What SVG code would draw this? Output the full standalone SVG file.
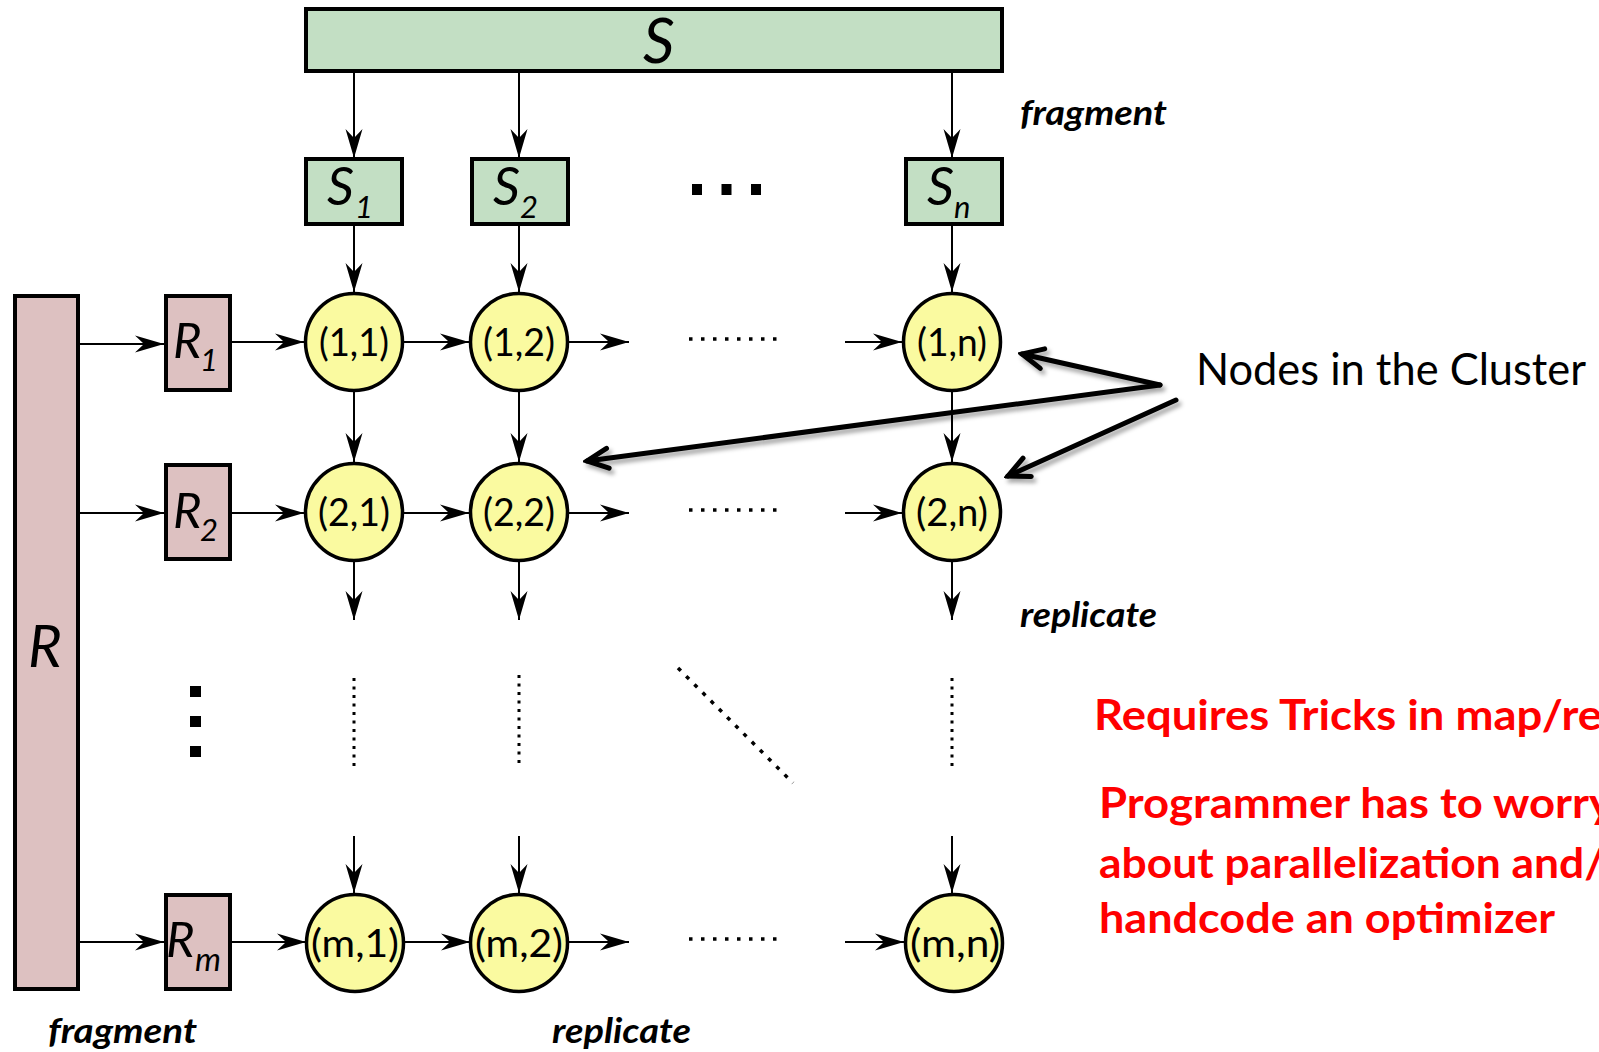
<svg xmlns="http://www.w3.org/2000/svg" width="1599" height="1052" viewBox="0 0 1599 1052">
<defs>
<style>
.sbox{fill:#c3dfc4;stroke:#000;stroke-width:4}
.rbox{fill:#ddc1c1;stroke:#000;stroke-width:4}
.node{fill:#fafaa0;stroke:#000;stroke-width:3.5}
.lbl{font-family:Lato,"Liberation Sans",sans-serif;font-style:italic;fill:#000}
.ntx{font-family:Lato,"Liberation Sans",sans-serif;font-size:39px;fill:#000;text-anchor:middle}
.note{font-family:Lato,"Liberation Sans",sans-serif;font-style:italic;font-weight:bold;font-size:34px;fill:#000}
.red{font-family:Lato,"Liberation Sans",sans-serif;font-weight:bold;font-size:42px;fill:#ff0000}
.cl{font-family:Lato,"Liberation Sans",sans-serif;font-size:44px;fill:#000}
.arr{stroke:#000;stroke-width:2;fill:none;marker-end:url(#ah)}
.dot{stroke:#000;fill:none}
.thick{stroke:#000;stroke-width:5;fill:none;marker-end:url(#oh);stroke-linecap:round}
</style>
<marker id="ah" markerUnits="userSpaceOnUse" viewBox="-30 -10 31 20" refX="0" refY="0" markerWidth="31" markerHeight="20" orient="auto">
<path d="M0,0 L-29,-8.5 L-20,0 L-29,8.5 Z" fill="#000"/>
</marker>
<marker id="oh" markerUnits="userSpaceOnUse" viewBox="-26 -14 30 28" refX="0" refY="0" markerWidth="30" markerHeight="28" orient="auto">
<path d="M-21,-10 L0,0 L-21,10" fill="none" stroke="#000" stroke-width="5" stroke-linecap="round" stroke-linejoin="miter"/>
</marker>
<filter id="sh" x="-10%" y="-30%" width="120%" height="160%">
<feDropShadow dx="3" dy="4" stdDeviation="2" flood-color="#000" flood-opacity="0.35"/>
</filter>
</defs>
<rect width="1599" height="1052" fill="#fff"/>

<g id="connectors">
<line class="arr" x1="354" y1="72" x2="354" y2="158"/>
<line class="arr" x1="519" y1="72" x2="519" y2="158"/>
<line class="arr" x1="952" y1="72" x2="952" y2="158"/>
<line class="arr" x1="354" y1="224" x2="354" y2="292"/>
<line class="arr" x1="519" y1="224" x2="519" y2="292"/>
<line class="arr" x1="952" y1="224" x2="952" y2="292"/>
<line class="arr" x1="354" y1="391" x2="354" y2="462"/>
<line class="arr" x1="519" y1="391" x2="519" y2="462"/>
<line class="arr" x1="952" y1="391" x2="952" y2="462"/>
<line class="arr" x1="354" y1="561" x2="354" y2="620"/>
<line class="arr" x1="519" y1="561" x2="519" y2="620"/>
<line class="arr" x1="952" y1="561" x2="952" y2="620"/>
<line class="arr" x1="354" y1="836" x2="354" y2="893"/>
<line class="arr" x1="519" y1="836" x2="519" y2="893"/>
<line class="arr" x1="952" y1="836" x2="952" y2="893"/>

<line class="arr" x1="79" y1="344" x2="164" y2="344"/>
<line class="arr" x1="230" y1="342" x2="304" y2="342"/>
<line class="arr" x1="402" y1="342" x2="469" y2="342"/>
<line class="arr" x1="568" y1="342" x2="629" y2="342"/>
<line class="arr" x1="845" y1="342" x2="902" y2="342"/>

<line class="arr" x1="79" y1="513" x2="164" y2="513"/>
<line class="arr" x1="230" y1="513" x2="304" y2="513"/>
<line class="arr" x1="402" y1="513" x2="469" y2="513"/>
<line class="arr" x1="568" y1="513" x2="629" y2="513"/>
<line class="arr" x1="845" y1="513" x2="902" y2="513"/>

<line class="arr" x1="79" y1="942" x2="164" y2="942"/>
<line class="arr" x1="230" y1="942" x2="306" y2="942"/>
<line class="arr" x1="404" y1="942" x2="470" y2="942"/>
<line class="arr" x1="568" y1="942" x2="629" y2="942"/>
<line class="arr" x1="845" y1="942" x2="904" y2="942"/>

<line class="dot" x1="689" y1="339" x2="776.5" y2="339" stroke-width="3.5" stroke-dasharray="3.5 8.5"/>
<line class="dot" x1="689" y1="510" x2="776.5" y2="510" stroke-width="3.5" stroke-dasharray="3.5 8.5"/>
<line class="dot" x1="689" y1="939" x2="776.5" y2="939" stroke-width="3.5" stroke-dasharray="3.5 8.5"/>

<line class="dot" x1="354" y1="678" x2="354" y2="766" stroke-width="3" stroke-dasharray="3 5.5"/>
<line class="dot" x1="519" y1="675" x2="519" y2="763" stroke-width="3" stroke-dasharray="3 5.5"/>
<line class="dot" x1="952" y1="678" x2="952" y2="766" stroke-width="3" stroke-dasharray="3 5.5"/>
<line class="dot" x1="678" y1="668" x2="793" y2="783" stroke-width="3.5" stroke-dasharray="4 7.6"/>

<g filter="url(#sh)">
<polyline class="thick" points="1160,385 1022,354" />
<polyline class="thick" points="1160,385 587,461" />
<polyline class="thick" points="1176,400 1008,476" />
</g>
</g>

<g id="S"><rect class="sbox" x="306" y="9" width="696" height="62"/><text class="lbl" x="643" y="63" font-size="62">S</text></g>
<g id="S1"><rect class="sbox" x="306" y="159" width="96" height="65"/><text class="lbl"><tspan x="327" y="205" font-size="53">S</tspan><tspan x="355" y="218" font-size="31">1</tspan></text></g>
<g id="S2"><rect class="sbox" x="472" y="159" width="96" height="65"/><text class="lbl"><tspan x="493" y="205" font-size="53">S</tspan><tspan x="520" y="218" font-size="31">2</tspan></text></g>
<g id="Sn"><rect class="sbox" x="906" y="159" width="96" height="65"/><text class="lbl"><tspan x="927" y="205" font-size="53">S</tspan><tspan x="954" y="218" font-size="31">n</tspan></text></g>
<g id="top-ellipsis"><rect x="692" y="184" width="10" height="11"/><rect x="721.5" y="184" width="10" height="11"/><rect x="751" y="184" width="10" height="11"/></g>

<g id="R"><rect class="rbox" x="15" y="296" width="63" height="693"/><text class="lbl" x="28" y="667" font-size="58">R</text></g>
<g id="R1"><rect class="rbox" x="166" y="296" width="64" height="94"/><text class="lbl"><tspan x="173" y="358" font-size="49">R</tspan><tspan x="200" y="371" font-size="31">1</tspan></text></g>
<g id="R2"><rect class="rbox" x="166" y="465" width="64" height="94"/><text class="lbl"><tspan x="173" y="528" font-size="49">R</tspan><tspan x="200" y="541" font-size="31">2</tspan></text></g>
<g id="Rm"><rect class="rbox" x="166" y="895" width="64" height="94"/><text class="lbl"><tspan x="166" y="957" font-size="49">R</tspan><tspan x="195" y="971" font-size="33">m</tspan></text></g>
<g id="left-ellipsis"><rect x="190" y="686" width="11" height="11"/><rect x="190" y="716" width="11" height="11"/><rect x="190" y="746" width="11" height="11"/></g>

<g id="n11"><circle class="node" cx="354" cy="342" r="48.5"/><text class="ntx" x="354" y="356" textLength="70" lengthAdjust="spacingAndGlyphs">(1,1)</text></g>
<g id="n12"><circle class="node" cx="519" cy="342" r="48.5"/><text class="ntx" x="519" y="356" textLength="72" lengthAdjust="spacingAndGlyphs">(1,2)</text></g>
<g id="n1n"><circle class="node" cx="952" cy="342" r="48.5"/><text class="ntx" x="952" y="356" textLength="70" lengthAdjust="spacingAndGlyphs">(1,n)</text></g>
<g id="n21"><circle class="node" cx="354" cy="512" r="48.5"/><text class="ntx" x="354" y="526" textLength="72" lengthAdjust="spacingAndGlyphs">(2,1)</text></g>
<g id="n22"><circle class="node" cx="519" cy="512" r="48.5"/><text class="ntx" x="519" y="526" textLength="72" lengthAdjust="spacingAndGlyphs">(2,2)</text></g>
<g id="n2n"><circle class="node" cx="952" cy="512" r="48.5"/><text class="ntx" x="952" y="526" textLength="72" lengthAdjust="spacingAndGlyphs">(2,n)</text></g>
<g id="nm1"><circle class="node" cx="355" cy="943" r="48.5"/><text class="ntx" x="355" y="957" textLength="88" lengthAdjust="spacingAndGlyphs">(m,1)</text></g>
<g id="nm2"><circle class="node" cx="519" cy="943" r="48.5"/><text class="ntx" x="519" y="957" textLength="88" lengthAdjust="spacingAndGlyphs">(m,2)</text></g>
<g id="nmn"><circle class="node" cx="954" cy="943" r="48.5"/><text class="ntx" x="955" y="957" textLength="90" lengthAdjust="spacingAndGlyphs">(m,n)</text></g>

<g id="labels">
<text class="note" x="1020" y="125" textLength="147" lengthAdjust="spacingAndGlyphs">fragment</text>
<text class="note" x="1020" y="627" textLength="137" lengthAdjust="spacingAndGlyphs">replicate</text>
<text class="note" x="48" y="1043" textLength="149" lengthAdjust="spacingAndGlyphs">fragment</text>
<text class="note" x="552" y="1043" textLength="139" lengthAdjust="spacingAndGlyphs">replicate</text>
<text class="cl" x="1196" y="385" textLength="390" lengthAdjust="spacingAndGlyphs">Nodes in the Cluster</text>
<text class="red" x="1094" y="730" textLength="508" lengthAdjust="spacingAndGlyphs">Requires Tricks in map/re</text>
<text class="red" x="1099" y="818" textLength="514" lengthAdjust="spacingAndGlyphs">Programmer has to worry</text>
<text class="red" x="1099" y="878" textLength="506" lengthAdjust="spacingAndGlyphs">about parallelization and/</text>
<text class="red" x="1099" y="933" textLength="456" lengthAdjust="spacingAndGlyphs">handcode an optimizer</text>
</g>
</svg>
